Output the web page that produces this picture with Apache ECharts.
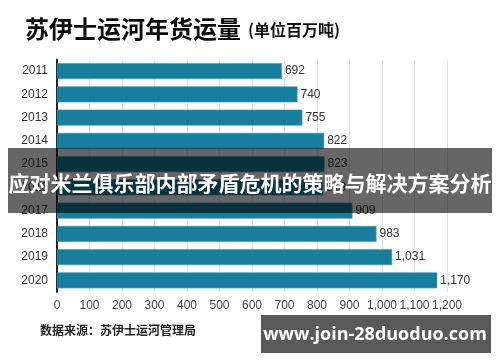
<!DOCTYPE html>
<html><head><meta charset="utf-8">
<script src="https://cdn.jsdelivr.net/npm/echarts@6/dist/echarts.min.js"></script>
<style>html,body{margin:0;padding:0;background:#fff}#c{width:500px;height:362px}</style>
</head><body><div id="c"></div>
<script>
const years = ['2011','2012','2013','2014','2015','2016','2017','2018','2019','2020'];
const tonnage = [692, 740, 755, 822, 823, 819, 909, 983, 1031, 1170];
const xTicks = [0,100,200,300,400,500,600,700,800,900,1000,1100,1200];
const titleText = '苏伊士运河年货运量';
const unitText = '(单位百万吨)';
const sourceText = '数据来源：苏伊士运河管理局';
const bannerText = '应对米兰俱乐部内部矛盾危机的策略与解决方案分析';
const watermarkText = 'www.join-28duoduo.com';

const cjk = '"Noto Sans CJK SC", "Noto Sans", sans-serif';
const fmt = v => v.toLocaleString('en-US');

const chart = echarts.init(document.getElementById('c'), null, {renderer:'canvas'});
chart.setOption({
  animation:false,
  backgroundColor:'#fff',
  grid:{left:57, right:53, top:59.5, bottom:70, containLabel:false},
  xAxis:{type:'value', min:0, max:1200, interval:100,
    axisLine:{show:false}, axisTick:{show:false},
    splitLine:{show:true, lineStyle:{color:'#e2e2e2', width:1}},
    axisLabel:{color:'#444', fontSize:12, fontFamily:'Arial, "Liberation Sans", sans-serif', margin:8,
      formatter:v => fmt(v)}
  },
  yAxis:{type:'category', data:years, inverse:true,
    axisLine:{show:true, lineStyle:{color:'#222', width:2}},
    axisTick:{show:false},
    axisLabel:{color:'#333', fontSize:12, fontFamily:'Arial, "Liberation Sans", sans-serif', margin:9}
  },
  series:[{type:'bar', data:tonnage, barWidth:16,
    itemStyle:{color:'#187e9e', borderColor:'#3a98b4', borderWidth:0.6},
    label:{show:true, position:'right', distance:3, color:'#333', fontSize:12,
      fontFamily:'Arial, "Liberation Sans", sans-serif', formatter:p => fmt(p.value)}
  }],
  graphic:[
    {type:'text', left:25, top:17, style:{text:titleText, font:'bold 24px '+cjk, fill:'#0a0a0a'}},
    {type:'text', left:248, top:22, style:{text:unitText, font:'bold 16px '+cjk, fill:'#111'}},
    {type:'text', left:40, top:324, style:{text:sourceText, font:'bold 12px '+cjk, fill:'#222'}},
    {type:'rect', shape:{x:8, y:148, width:484, height:65}, style:{fill:'rgba(0,0,0,0.6)'}, z:100},
    {type:'text', x:250, y:183, z:101, style:{text:bannerText, font:'bold 21px '+cjk, fill:'#fff', align:'center', verticalAlign:'middle'}},
    {type:'rect', shape:{x:261, y:315, width:230, height:38}, style:{fill:'rgba(60,60,60,0.85)'}, z:100},
    {type:'text', x:375, y:335, z:101, style:{text:watermarkText, font:'bold 18px "Open Sans", "DejaVu Sans", sans-serif', fill:'#fff', align:'center', verticalAlign:'middle'}}
  ]
});
</script></body></html>
